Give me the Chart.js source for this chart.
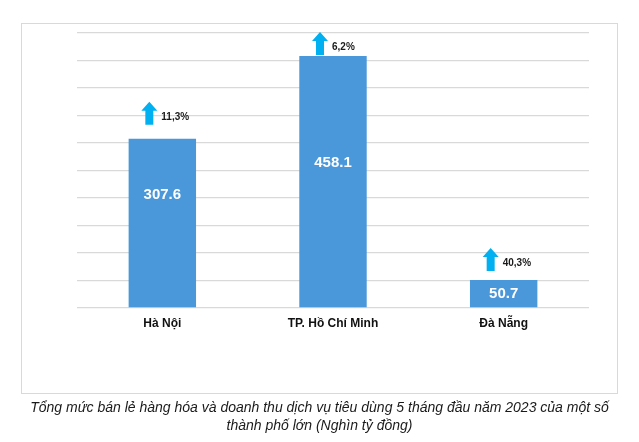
<!DOCTYPE html>
<html>
<head>
<meta charset="utf-8">
<script src="https://cdn.jsdelivr.net/npm/chart.js@4"></script>
<style>
  html, body { margin: 0; padding: 0; background: #fff; }
  body { width: 639px; height: 442px; position: relative; overflow: hidden; font-family: "Liberation Sans", Arial, sans-serif; }
  #khung { position: absolute; left: 21px; top: 23px; width: 597px; height: 371px; border: 1px solid #d9d9d9; box-sizing: border-box; }
  #wrap { position: absolute; left: 0; top: 0; width: 639px; height: 442px; }
  #chuthich { position: absolute; left: 0; top: 398px; width: 639px; text-align: center; font-style: italic; font-size: 14px; line-height: 18px; color: #1a1a1a; }
</style>
</head>
<body>
<div id="khung"></div>
<div id="wrap"><canvas id="bieuDo"></canvas></div>
<div id="chuthich">Tổng mức bán lẻ hàng hóa và doanh thu dịch vụ tiêu dùng 5 tháng đầu năm 2023 của một số<br>thành phố lớn (Nghìn tỷ đồng)</div>
<script>
// Dữ liệu
const thanhPho = ["Hà Nội", "TP. Hồ Chí Minh", "Đà Nẵng"];
const doanhThu = [307.6, 458.1, 50.7];
const tangTruong = ["11,3%", "6,2%", "40,3%"];

// Khoảng cách mũi tên phía trên cột (px) và lệch nhãn giá trị so với giữa cột
const khoangMuiTen = [14, 1, 9];
const lechNhan = [-28, -19, 0];

const veNhan = {
  id: "veNhan",
  afterDatasetsDraw(chart) {
    const ctx = chart.ctx;
    const meta = chart.getDatasetMeta(0);
    meta.data.forEach((bar, i) => {
      // giá trị trong cột
      ctx.save();
      ctx.fillStyle = "#ffffff";
      ctx.font = "bold 15px 'Liberation Sans', Arial, sans-serif";
      ctx.textAlign = "center";
      ctx.textBaseline = "middle";
      ctx.fillText(doanhThu[i].toFixed(1), bar.x, (bar.y + bar.base) / 2 + lechNhan[i]);

      // mũi tên tăng
      const ax = bar.x - 13;
      const day = bar.y - khoangMuiTen[i];
      const cao = 23, dau = 9;
      ctx.fillStyle = "#00b0f0";
      ctx.beginPath();
      ctx.moveTo(ax - 4, day);
      ctx.lineTo(ax - 4, day - cao + dau);
      ctx.lineTo(ax - 8, day - cao + dau);
      ctx.lineTo(ax, day - cao);
      ctx.lineTo(ax + 8, day - cao + dau);
      ctx.lineTo(ax + 4, day - cao + dau);
      ctx.lineTo(ax + 4, day);
      ctx.closePath();
      ctx.fill();

      // % tăng
      ctx.fillStyle = "#1a1a1a";
      ctx.font = "bold 10px 'Liberation Sans', Arial, sans-serif";
      ctx.textAlign = "left";
      ctx.fillText(tangTruong[i], ax + 12, day - 8);
      ctx.restore();
    });
  }
};

new Chart(document.getElementById("bieuDo"), {
  type: "bar",
  data: {
    labels: thanhPho,
    datasets: [{
      data: doanhThu,
      backgroundColor: "#4a97da",
      borderWidth: 0,
      categoryPercentage: 1,
      barPercentage: 0.395
    }]
  },
  options: {
    responsive: true,
    maintainAspectRatio: false,
    animation: false,
    layout: { padding: { left: 77, right: 50, top: 33, bottom: 442 - 308 - 40 } },
    plugins: { legend: { display: false }, tooltip: { enabled: false } },
    scales: {
      x: {
        grid: { display: false },
        border: { display: false },
        ticks: {
          color: "#111",
          padding: 0,
          font: { family: "'Liberation Sans', Arial, sans-serif", size: 12, weight: "bold" }
        },
        afterFit(s) { s.height = 40; }
      },
      y: {
        min: 0,
        max: 500,
        ticks: { stepSize: 50, display: false },
        grid: { color: "#d9d9d9", lineWidth: 1.3, drawTicks: false },
        border: { display: false },
        afterFit(s) { s.width = 0; }
      }
    }
  },
  plugins: [veNhan]
});
</script>
</body>
</html>
